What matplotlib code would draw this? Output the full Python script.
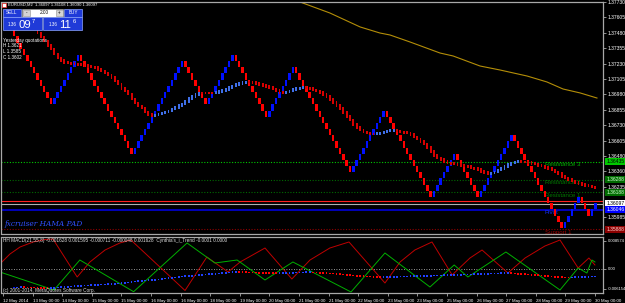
import numpy as np
import matplotlib
matplotlib.use("Agg")
import matplotlib.pyplot as plt
import matplotlib.transforms as mtransforms
from matplotlib.patches import Rectangle

plt.rcParams['font.family'] = ['Liberation Sans', 'DejaVu Sans']

W, H = 625, 303

# ---- renko bricks (EURUSD M2), runs of bricks: negative = down ----
brick_size = 0.0005
first_brick_top = 1.37500
brick_runs = [-12, 8, -16, 15, -7, 8, -10, 8, -17, 10, -14, 7, -7, 10, -15, 5, -3, 2]

# smoothed (HAMA) line, one value per bar starting at bar 5
smooth_first_bar = 5
smooth_close = [
    1.37542, 1.37509, 1.37477, 1.37445, 1.37412, 1.37376, 1.37348, 1.37307, 1.37275, 1.37255,
    1.37238, 1.37234, 1.37230, 1.37226, 1.37222, 1.37218, 1.37214, 1.37206, 1.37202, 1.37198,
    1.37182, 1.37170, 1.37153, 1.37137, 1.37117, 1.37089, 1.37064, 1.37028, 1.37008, 1.36984,
    1.36943, 1.36911, 1.36886, 1.36870, 1.36838, 1.36818, 1.36806, 1.36814, 1.36822, 1.36830,
    1.36838, 1.36846, 1.36862, 1.36874, 1.36891, 1.36903, 1.36923, 1.36947, 1.36963, 1.36980,
    1.36992, 1.36992, 1.36992, 1.36992, 1.36992, 1.36996, 1.37004, 1.37012, 1.37020, 1.37036,
    1.37048, 1.37060, 1.37068, 1.37077, 1.37081, 1.37081, 1.37077, 1.37068, 1.37060, 1.37052,
    1.37044, 1.37036, 1.37024, 1.37012, 1.36996, 1.36992, 1.37000, 1.37008, 1.37020, 1.37028,
    1.37034, 1.37036, 1.37032, 1.37028, 1.37016, 1.37008, 1.36996, 1.36980, 1.36963, 1.36939,
    1.36915, 1.36891, 1.36866, 1.36834, 1.36802, 1.36773, 1.36737, 1.36713, 1.36692, 1.36676,
    1.36668, 1.36660, 1.36660, 1.36664, 1.36668, 1.36676, 1.36684, 1.36688, 1.36692, 1.36684,
    1.36676, 1.36672, 1.36668, 1.36656, 1.36636, 1.36620, 1.36599, 1.36579, 1.36551, 1.36518,
    1.36486, 1.36466, 1.36454, 1.36437, 1.36427, 1.36423, 1.36417, 1.36412, 1.36407, 1.36401,
    1.36396, 1.36387, 1.36382, 1.36373, 1.36357, 1.36349, 1.36342, 1.36346, 1.36354, 1.36369,
    1.36381, 1.36397, 1.36413, 1.36425, 1.36435, 1.36437, 1.36433, 1.36432, 1.36429, 1.36423,
    1.36416, 1.36407, 1.36399, 1.36390, 1.36382, 1.36367, 1.36352, 1.36342, 1.36318, 1.36304,
    1.36293, 1.36278, 1.36268, 1.36259, 1.36251, 1.36243, 1.36238, 1.36231, 1.36223]

# slow moving average (gold line)
ma_bars = [82.1, 85.1, 94.0, 103.0, 108.9, 111.9, 117.9, 126.8, 130.7, 138.7,
           144.6, 152.7, 158.6, 163.4, 168.5, 173.5]
ma_price = [1.37760, 1.37728, 1.37639, 1.37526, 1.37477, 1.37461, 1.37404, 1.37315,
            1.37291, 1.37210, 1.37178, 1.37129, 1.37081, 1.37024, 1.36992, 1.36951]

# pivot levels
level_names = ["Resistance 3", "Resistance 2", "Resistance 1", "Pivot", "Support 1"]
level_prices = [1.36435, 1.36288, 1.36188, 1.36046, 1.35888]
level_colors = ["#00c800", "#006a00", "#006a00", "#0000c8", "#8c0000"]
level_text_colors = ["#00b400", "#007800", "#007800", "#1030ff", "#a00000"]
level_box_text = ["black", "#d0ffd0", "#d0ffd0", "white", "#ffd0d0"]
bid_price = 1.36097
ask_price = 1.36116

price_ticks = [1.37730, 1.37605, 1.37480, 1.37355, 1.37230, 1.37105, 1.36980,
               1.36855, 1.36730, 1.36605, 1.36480, 1.36360, 1.36235, 1.35985]

time_labels = ["12 May 2014", "13 May 00:00", "14 May 00:00", "15 May 00:00", "15 May 00:00",
               "16 May 00:00", "16 May 00:00", "18 May 00:00", "19 May 00:00", "20 May 00:00",
               "21 May 00:00", "21 May 00:00", "22 May 00:00", "23 May 00:00", "23 May 00:00",
               "25 May 00:00", "26 May 00:00", "27 May 00:00", "28 May 00:00", "29 May 00:00",
               "30 May 00:00"]

# indicator window (values in 1e-4)
macd_red_bars = [-3.6, -1.2, 1.8, 5.7, 9.2, 11.6, 18.8, 22.6, 27.1, 31.5, 34.8, 50.9,
                 57.4, 63.7, 67.3, 74.7, 82.7, 88.1, 94.0, 99.7, 110.4, 114.9, 119.3,
                 124.4, 130.4, 135.7, 139.3, 147.0, 152.1, 158.0, 162.5, 167.9, 171.1, 172.9]
macd_red = [20.3, 44.8, 66.3, 81.7, 89.3, 90.9, -25.8, 20.3, 57.1, 78.6, 87.8, -67.2,
            35.6, -10.4, 20.3, 63.2, -31.9, 26.4, 63.2, 81.7, -44.2, 20.3, 57.1,
            81.7, -19.6, 32.5, 57.1, -13.5, 32.5, 69.3, 87.8, 1.8, 32.5, 11.1]
macd_green_bars = [-4.2, 11.9, 19.6, 35.6, 51.5, 59.8, 66.4, 74.7, 83.0, 100.3,
                   110.4, 123.8, 131.0, 135.1, 146.4, 162.5, 167.9, 170.5, 172.0, 172.9]
macd_green = [-10.4, -65.7, 26.4, -70.9, 78.6, 17.2, 26.4, -35.0, 20.3, -71.8,
              47.9, -56.5, 11.1, -25.8, 51.0, -65.7, 1.8, -13.5, 26.4, 20.3]
trend_dots = [
    -58.3, -57.7, -57.1, -57.4, -57.7, -58.0, -58.3, -58.6, -58.9, -59.3, -59.6,
    -59.3, -58.6, -58.0, -57.1, -56.5, -55.6, -55.0, -54.0, -53.4, -52.8,
    -52.2, -51.6, -51.0, -50.3, -49.7, -49.1, -48.5, -47.9, -47.3, -46.7,
    -45.7, -44.8, -43.6, -42.4, -41.1, -39.9, -39.0, -38.1, -36.8, -35.9,
    -35.0, -34.1, -33.2, -31.9, -30.7, -29.8, -28.9, -27.3, -25.8, -24.6,
    -23.6, -22.7, -21.8, -20.9, -20.0, -19.0, -18.1, -17.2, -16.6, -15.7,
    -14.7, -13.8, -12.9, -12.0, -11.1, -10.4,
    -10.7, -11.1, -11.4, -11.7, -12.0, -12.3, -12.6, -12.9, -13.2, -13.5, -13.8, -14.1,
    -13.8, -13.5, -13.2, -12.9, -12.6, -12.3, -12.0, -11.7, -11.4, -11.1,
    -11.7, -12.3, -12.9, -13.5, -14.1, -14.7, -15.4, -16.3, -17.2, -18.1, -19.0,
    -20.0, -20.9, -21.8, -22.7, -23.3, -23.9, -24.6, -25.2, -25.8, -26.4,
    -26.1, -25.8, -25.5, -25.2, -24.9, -24.6, -24.3, -23.9, -23.6, -23.3,
    -23.0, -22.7, -22.4, -22.1, -21.8, -21.5, -21.2, -20.9, -20.6, -20.3,
    -19.7, -19.3, -19.0, -18.7, -18.4, -18.1, -17.8, -17.2, -16.6, -16.3,
    -16.0, -15.7, -15.4, -15.0, -14.7, -14.4, -14.1, -13.8,
    -14.4, -15.0, -15.7, -16.3, -16.9, -17.8, -18.7, -19.7, -20.6, -21.5,
    -22.4, -23.3, -24.3, -25.2, -25.8, -26.4, -27.0, -27.6,
    -27.0, -26.4, -25.8, -25.5, -25.2, -24.9, -24.6, -24.3]
ind_ticks = [0.008574, 0.0, -0.006154]
ind_tick_labels = ["0.008574", "0.00", "-0.006154"]

RED, BLUE = "#ff0000", "#0010ff"
SM_RED, SM_BLUE = "#d80000", "#3f6fe8"
GRID = "#a8a8a8"
FS = 3.6


def rect(x0, y0, x1, y1):
    return [x0 / W, 1 - y1 / H, (x1 - x0) / W, (y1 - y0) / H]


fig = plt.figure(figsize=(W / 100, H / 100), dpi=100, facecolor="black")
ax = fig.add_axes(rect(1.5, 1.7, 603.5, 233.5), facecolor="black")
ax2 = fig.add_axes(rect(1.5, 236.5, 603.5, 293), facecolor="black")

# bar i sits at pixel 14 + 3.36 i
xlim = ((1.5 - 14) / 3.36, (603.5 - 14) / 3.36)
ax.set_xlim(*xlim)
ax2.set_xlim(*xlim)
ax.set_ylim(1.35855, 1.377302)
ax2.set_ylim(-0.0074908, 0.0098547)

for a in (ax, ax2):
    for s in a.spines.values():
        s.set_color(GRID)
        s.set_linewidth(0.9)

# ---- level lines ----
for name, p, c, tc in zip(level_names, level_prices, level_colors, level_text_colors):
    if name == "Pivot":
        ax.axhline(p, color=c, lw=1.3, zorder=1)
    else:
        ax.axhline(p, color=c, lw=0.8, ls=(0, (1, 1.5)), zorder=1)
    ax.text(158.0, p - 0.00003, name, color=tc, fontsize=4.4, va="top", ha="left", zorder=2)
ax.axhline(ask_price, color="#ff2020", lw=0.8, zorder=1)
ax.axhline(bid_price, color="#b0b0b0", lw=0.8, zorder=1)

# ---- slow MA ----
ax.plot(ma_bars, ma_price, color="#b48e08", lw=0.8, zorder=2)

# ---- renko bricks ----
bottoms, colors = [], []
level = first_brick_top
for run in brick_runs:
    for _ in range(abs(run)):
        if run < 0:
            level -= brick_size
            bottoms.append(level)
            colors.append(RED)
        else:
            bottoms.append(level)
            level += brick_size
            colors.append(BLUE)
bars = np.arange(len(bottoms))
ax.bar(bars, brick_size, bottom=bottoms, width=0.74, color=colors, linewidth=0, zorder=3)

# ---- smoothed bars ----
sm = np.array(smooth_close)
sx = np.arange(smooth_first_bar, smooth_first_bar + len(sm))
pad = 0.0001
lo = np.minimum(sm[:-1], sm[1:]) - pad
hi = np.maximum(sm[:-1], sm[1:]) + pad
sc = [SM_BLUE if b > a else SM_RED for a, b in zip(sm[:-1], sm[1:])]
ax.bar(sx[1:], hi - lo, bottom=lo, width=0.55, color=sc, linewidth=0, zorder=4)

# ---- price axis ----
ax.yaxis.tick_right()
ax.set_yticks(price_ticks)
ax.set_yticklabels([f"{p:.5f}" for p in price_ticks])
ax.tick_params(axis="y", colors="white", labelsize=FS, length=2, width=0.6, pad=1.2)
ax.tick_params(axis="y", which="both", color=GRID)
ax.set_xticks([])

trans = mtransforms.blended_transform_factory(ax.transAxes, ax.transData)
# ask label sits under the bid label, only its red edge shows
ax.add_patch(Rectangle((1.003, ask_price - 0.00004), 0.04, 0.00008, transform=trans,
                       fc="#ff0000", ec="none", clip_on=False, zorder=5))
boxes = list(zip(level_prices[:3], level_colors[:3], level_box_text[:3]))
boxes += [(bid_price, "white", "black"),
          (level_prices[3], "#0000ff", "white"), (level_prices[4], "#8c0000", "#ffd0d0")]
for p, fc, tc in boxes:
    ax.text(1.0045, p, f"{p:.5f}", transform=trans, fontsize=FS, color=tc, ha="left",
            va="center", clip_on=False, zorder=6,
            bbox=dict(boxstyle="square,pad=0.2", fc=fc, ec="none"))

# ---- indicator ----
ax2.axhline(0, color="#c8c8c8", lw=0.6, ls=(0, (1, 2)), zorder=1)
ax2.plot(macd_red_bars, np.array(macd_red) * 1e-4, color="#c00000", lw=0.7, zorder=2)
ax2.plot(macd_green_bars, np.array(macd_green) * 1e-4, color="#00b000", lw=0.7, zorder=2)
td = np.array(trend_dots) * 1e-4
dc = [BLUE] + ["#2040ff" if b > a else RED for a, b in zip(td[:-1], td[1:])]
ax2.scatter(np.arange(len(td)), td, s=1.6, marker="s", c=dc, linewidths=0, zorder=3)

ax2.yaxis.tick_right()
ax2.set_yticks(ind_ticks)
ax2.set_yticklabels(ind_tick_labels)
ax2.tick_params(axis="y", colors="white", labelsize=3.0, length=2, width=0.6, pad=1.0)
ax2.tick_params(axis="y", color=GRID)

tick_bars = (3 + 29.6 * np.arange(len(time_labels)) - 14) / 3.36
ax2.set_xticks(tick_bars)
ax2.set_xticklabels(time_labels)
ax2.tick_params(axis="x", colors="white", labelsize=3.2, length=2.5, width=0.6, pad=1.5)
ax2.tick_params(axis="x", color=GRID)
for lab in ax2.get_xticklabels():
    lab.set_ha("left")

# ---- overlay: terminal widgets and captions ----
ov = fig.add_axes([0, 0, 1, 1], facecolor="none", zorder=10)
ov.set_xlim(0, W)
ov.set_ylim(H, 0)
ov.axis("off")

ov.add_patch(Rectangle((2, 2.5), 4, 4, fc="white", ec="#ff3030", lw=0.5))
ov.text(8, 5, "EURUSD,M2  1.36097 1.36108 1.36090 1.36097", color="white",
        fontsize=3.0, va="center", ha="left")

panel_fc, panel_ec = "#1f3ad8", "#8ea6ff"
ov.add_patch(Rectangle((2.7, 8.8), 18, 7.9, fc=panel_fc, ec=panel_ec, lw=0.5))
ov.add_patch(Rectangle((64, 8.8), 18, 7.9, fc=panel_fc, ec=panel_ec, lw=0.5))
ov.add_patch(Rectangle((21.7, 8.8), 41.6, 7.9, fc="white", ec="#909090", lw=0.5))
ov.add_patch(Rectangle((23, 9.8), 7, 6, fc="#d4d4d4", ec="#909090", lw=0.4))
ov.add_patch(Rectangle((55.5, 9.8), 7, 6, fc="#d4d4d4", ec="#909090", lw=0.4))
ov.text(11.7, 12.9, "SELL", color="white", fontsize=3.3, ha="center", va="center")
ov.text(73, 12.9, "BUY", color="white", fontsize=3.3, ha="center", va="center")
ov.text(26.5, 12.8, "-", color="black", fontsize=3.3, ha="center", va="center")
ov.text(59, 12.8, "+", color="black", fontsize=3.3, ha="center", va="center")
ov.text(44, 12.9, "2.00", color="black", fontsize=3.4, ha="center", va="center")

ov.add_patch(Rectangle((2.7, 17.3), 39.6, 12.7, fc=panel_fc, ec=panel_ec, lw=0.5))
ov.add_patch(Rectangle((43.3, 17.3), 38.7, 12.7, fc=panel_fc, ec=panel_ec, lw=0.5))
for x0, big, small in [(8, "09", "7"), (49, "11", "6")]:
    ov.text(x0, 26.5, "1.36", color="white", fontsize=3.3, ha="left", va="baseline")
    ov.text(x0 + 10.5, 28.2, big, color="white", fontsize=8.2, ha="left", va="baseline")
    ov.text(x0 + 24, 22.8, small, color="white", fontsize=4.2, ha="left", va="baseline")

ov.text(3, 40.5, "Yesterday quotations", color="white", fontsize=3.3, va="center")
ov.text(3, 45.5, "H 1.3621", color="white", fontsize=3.3, va="center")
ov.text(3, 51.5, "L 1.3585", color="white", fontsize=3.3, va="center")
ov.text(3, 57.5, "C 1.3602", color="white", fontsize=3.3, va="center")

ov.text(4, 224.5, "fxcruiser HAMA PAD", color="#3050ff", fontsize=5.3, style="italic",
        family="DejaVu Serif", va="center")
ov.text(3, 240.8, "HH MACD(21,55,8) -0.001628 0.001595 -0.000711 -0.000048 0.001628  "
        "Cynthia's_i_Trend -0.0001 0.0000", color="#e0e0e0", fontsize=3.4, va="center")
ov.text(3, 290.3, "(c) 2001-2014, MetaQuotes Software Corp.", color="#e0e0e0",
        fontsize=3.4, va="center")

fig.savefig("out.png", dpi=100, facecolor="black")
